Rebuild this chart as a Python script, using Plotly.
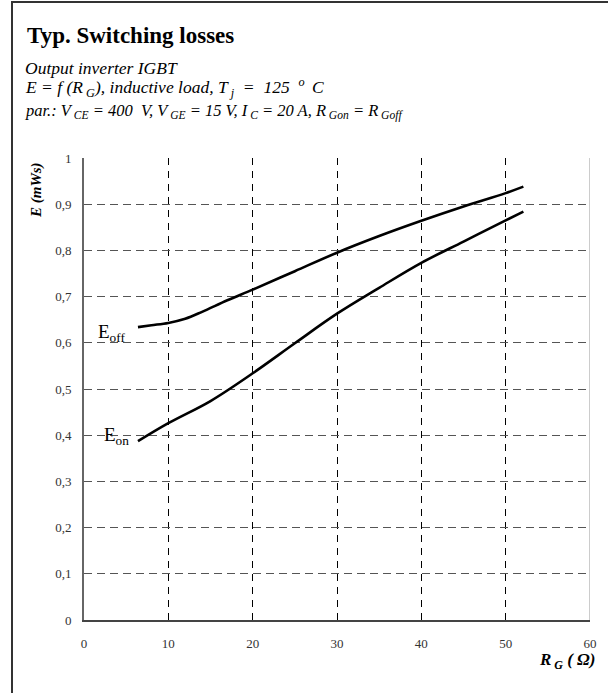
import plotly.graph_objects as go

# Gate resistance (ohm) and switching energies (mWs) for the two curves
rg_off = [6.4, 8, 10, 12, 14, 17, 20, 25, 30, 35, 40, 45, 50, 52.1]
e_off = [0.634, 0.638, 0.643, 0.652, 0.667, 0.692, 0.715, 0.755, 0.795, 0.831, 0.864, 0.895, 0.924, 0.938]

rg_on = [6.4, 10, 15, 20, 25, 30, 35, 40, 45, 50, 52.1]
e_on = [0.387, 0.426, 0.474, 0.534, 0.599, 0.663, 0.719, 0.773, 0.819, 0.865, 0.884]

x_ticks = [0, 10, 20, 30, 40, 50, 60]
y_ticks = [0, 0.1, 0.2, 0.3, 0.4, 0.5, 0.6, 0.7, 0.8, 0.9, 1.0]
y_tick_text = ["0", "0,1", "0,2", "0,3", "0,4", "0,5", "0,6", "0,7", "0,8", "0,9", "1"]

SERIF = "Liberation Serif"

fig = go.Figure()
fig.add_trace(go.Scatter(x=rg_off, y=e_off, mode="lines", name="Eoff",
                         line=dict(color="black", width=2.6, shape="spline", smoothing=1)))
fig.add_trace(go.Scatter(x=rg_on, y=e_on, mode="lines", name="Eon",
                         line=dict(color="black", width=2.6, shape="spline", smoothing=1)))

W, H = 608, 693
L, R, T, B = 84, 18, 158, 73
pw, ph = W - L - R, H - T - B


def px(x):
    return (x - L) / pw


def py(y):
    return (H - B - y) / ph


annotations = [
    dict(text="<b>Typ. Switching losses</b>", x=px(25), y=py(36), xanchor="left", yanchor="middle",
         font=dict(size=23, color="black", family=SERIF)),
    dict(text="<i>Output inverter IGBT</i>", x=px(23), y=py(68), xanchor="left", yanchor="middle",
         font=dict(size=17.5, color="black", family=SERIF)),
    dict(text="<i>E = f (R<sub> G</sub>), inductive load, T<sub> j</sub>  =  125  <sup>o </sup> C</i>",
         x=px(23), y=py(88), xanchor="left", yanchor="middle",
         font=dict(size=17.5, color="black", family=SERIF)),
    dict(text="<i>par.: V<sub> CE</sub> = 400  V, V<sub> GE</sub> = 15 V, I<sub> C</sub> = 20 A, "
              "R<sub> Gon</sub> = R<sub> Goff</sub></i>",
         x=px(23), y=py(111), xanchor="left", yanchor="middle",
         font=dict(size=16.5, color="black", family=SERIF)),
    dict(text="<b><i>E (mWs)</i></b>", textangle=-90, x=px(36), y=py(190), xanchor="center", yanchor="middle",
         font=dict(size=15, color="black", family=SERIF)),
    dict(text="<b><i>R<sub> G</sub> ( Ω)</i></b>", x=px(597), y=py(661), xanchor="right", yanchor="middle",
         font=dict(size=17, color="black", family=SERIF)),
    dict(text="E<sub>off</sub>", x=1.4, y=0.622, xref="x", yref="y", xanchor="left", yanchor="middle",
         font=dict(size=19, color="black", family=SERIF)),
    dict(text="E<sub>on</sub>", x=2.1, y=0.398, xref="x", yref="y", xanchor="left", yanchor="middle",
         font=dict(size=19, color="black", family=SERIF)),
]
for a in annotations:
    a.setdefault("xref", "paper")
    a.setdefault("yref", "paper")
    a["showarrow"] = False

shapes = [
    # page frame (left and top edges)
    dict(type="line", xref="paper", yref="paper", x0=px(12), x1=px(12), y0=py(1), y1=py(H + 10),
         line=dict(color="#333", width=2)),
    dict(type="line", xref="paper", yref="paper", x0=px(11), x1=px(W + 10), y0=py(2), y1=py(2),
         line=dict(color="#333", width=2)),
    # right edge of the plotting area
    dict(type="line", xref="x", yref="y", x0=60, x1=60, y0=0, y1=1,
         line=dict(color="#999", width=1)),
]

fig.update_layout(
    width=W, height=H,
    margin=dict(l=L, r=R, t=T, b=B),
    paper_bgcolor="white", plot_bgcolor="white",
    showlegend=False,
    annotations=annotations,
    shapes=shapes,
    font=dict(family=SERIF, color="#333"),
)
fig.update_xaxes(range=[0, 60], tickvals=x_ticks, ticks="", showgrid=True,
                 gridcolor="black", gridwidth=1, griddash="7px,6px",
                 showline=True, linecolor="#444", linewidth=2, zeroline=False,
                 tickfont=dict(size=13, color="#333", family=SERIF), ticklabelstandoff=10)
fig.update_yaxes(range=[0, 1], tickvals=y_ticks, ticktext=y_tick_text, ticks="", showgrid=True,
                 gridcolor="#555", gridwidth=1, griddash="8px,5px",
                 showline=True, linecolor="#666", linewidth=2, zeroline=False,
                 tickfont=dict(size=13, color="#333", family=SERIF), ticklabelstandoff=8)

fig.write_html("out.html")
